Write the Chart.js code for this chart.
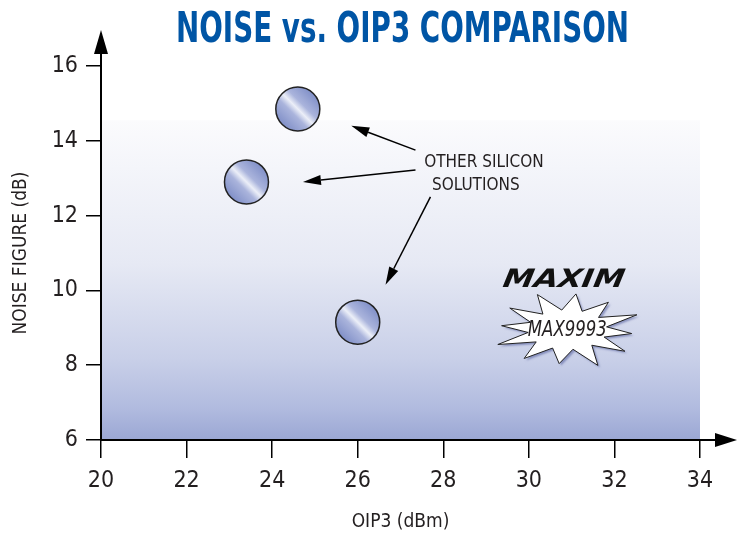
<!DOCTYPE html>
<html>
<head>
<meta charset="utf-8">
<script src="https://cdn.jsdelivr.net/npm/chart.js@4.4.0/dist/chart.umd.min.js"></script>
<style>
  html, body { margin: 0; padding: 0; background: #fff; }
  #wrap { width: 737px; height: 533px; }
</style>
</head>
<body>
<div id="wrap"><canvas id="grafico"></canvas></div>
<script>
// Datos
const oip3 = [24.6, 23.4, 26.0];
const noiseFigure = [14.85, 12.9, 9.15];
const xTicks = [20, 22, 24, 26, 28, 30, 32, 34];
const yTicks = [6, 8, 10, 12, 14, 16];

// Flechas de la anotación (desde el texto hasta cerca del punto), en unidades de datos
const arrowFromX = [27.35, 27.35, 27.7];
const arrowFromY = [13.75, 13.22, 12.5];
const arrowToX = [25.85, 24.72, 26.65];
const arrowToY = [14.4, 12.9, 10.15];

const FONT = '"Liberation Sans Narrow", "DejaVu Sans Condensed", "Roboto", sans-serif';
const TITULO = 'NOISE vs. OIP3 COMPARISON';

const puntos = oip3.map((x, i) => ({ x: x, y: noiseFigure[i] }));

// Relleno tipo esfera para cada círculo
function rellenoCirculo(c) {
  const chart = c.chart;
  if (c.type !== 'data' || !chart.chartArea) return '#8e9bd0';
  const px = chart.scales.x.getPixelForValue(c.raw.x);
  const py = chart.scales.y.getPixelForValue(c.raw.y);
  const r = 22;
  const g = chart.ctx.createLinearGradient(px - r * 0.7, py + r * 0.7, px + r * 0.7, py - r * 0.7);
  g.addColorStop(0, '#8190c8');
  g.addColorStop(0.35, '#aab4dc');
  g.addColorStop(0.5, '#eceff8');
  g.addColorStop(0.65, '#aab4dc');
  g.addColorStop(1, '#8190c8');
  return g;
}

function flecha(ctx, x1, y1, x2, y2, largo, ancho) {
  const ang = Math.atan2(y2 - y1, x2 - x1);
  const bx = x2 - Math.cos(ang) * largo;
  const by = y2 - Math.sin(ang) * largo;
  ctx.beginPath();
  ctx.moveTo(x1, y1);
  ctx.lineTo(bx, by);
  ctx.stroke();
  ctx.beginPath();
  ctx.moveTo(x2, y2);
  ctx.lineTo(bx + Math.sin(ang) * ancho / 2, by - Math.cos(ang) * ancho / 2);
  ctx.lineTo(bx - Math.sin(ang) * ancho / 2, by + Math.cos(ang) * ancho / 2);
  ctx.closePath();
  ctx.fill();
}

const fondoPlugin = {
  id: 'fondo',
  beforeDraw(chart) {
    const { ctx, chartArea: a, scales } = chart;
    const top = scales.y.getPixelForValue(14.55);
    const g = ctx.createLinearGradient(0, top, 0, a.bottom);
    g.addColorStop(0, '#fbfbfd');
    g.addColorStop(0.45, '#e6e9f4');
    g.addColorStop(0.75, '#c8cfe8');
    g.addColorStop(0.9, '#b1bbdf');
    g.addColorStop(1, '#9ba7d4');
    ctx.save();
    ctx.fillStyle = g;
    ctx.fillRect(a.left, top, a.right - a.left, a.bottom - top);

    // título condensado, centrado sobre el área del gráfico
    ctx.font = 'bold 42px ' + FONT;
    ctx.fillStyle = '#0055a5';
    ctx.textBaseline = 'alphabetic';
    ctx.textAlign = 'left';
    const w = ctx.measureText(TITULO).width;
    const ancho = 453;
    ctx.translate((a.left + a.right) / 2 - ancho / 2 + 2, 42);
    ctx.scale(ancho / w, 1);
    ctx.fillText(TITULO, 0, 0);
    ctx.restore();
  }
};

const anotaciones = {
  id: 'anotaciones',
  afterDraw(chart) {
    const { ctx, chartArea: a, scales } = chart;
    const sx = scales.x, sy = scales.y;
    ctx.save();
    ctx.strokeStyle = '#000';
    ctx.fillStyle = '#000';

    // flechas de los ejes
    ctx.lineWidth = 2;
    flecha(ctx, a.left, a.top, a.left, 30, 24, 14);
    flecha(ctx, a.right, a.bottom, 737, a.bottom, 22, 14);

    // flechas hacia las otras soluciones
    ctx.lineWidth = 1.5;
    for (let i = 0; i < arrowFromX.length; i++) {
      flecha(ctx,
        sx.getPixelForValue(arrowFromX[i]), sy.getPixelForValue(arrowFromY[i]),
        sx.getPixelForValue(arrowToX[i]), sy.getPixelForValue(arrowToY[i]), 18, 10);
    }

    ctx.font = '17px ' + FONT;
    ctx.fillStyle = '#231f20';
    ctx.textAlign = 'center';
    ctx.textBaseline = 'middle';
    ctx.fillText('OTHER SILICON', sx.getPixelForValue(28.95), sy.getPixelForValue(13.43));
    ctx.fillText('SOLUTIONS', sx.getPixelForValue(28.76), sy.getPixelForValue(12.79));

    // logo MAXIM
    const lx = sx.getPixelForValue(30.8), ly = sy.getPixelForValue(10.27);
    ctx.save();
    ctx.translate(lx, ly);
    ctx.transform(1.35, 0, -0.45, 1.1, 0, 0);
    ctx.font = '900 23px "DejaVu Sans"';
    ctx.fillStyle = '#111';
    ctx.fillText('MAXIM', 0, 0);
    ctx.restore();

    // estrella MAX9993
    const cx = sx.getPixelForValue(30.9), cy = sy.getPixelForValue(8.95);
    const largos = [1, 0.95, 1.05, 0.9, 1, 1.08, 0.95, 1, 1.05, 0.92, 1.0, 1.06];
    const puntas = largos.length;
    ctx.save();
    ctx.beginPath();
    for (let k = 0; k < puntas * 2; k++) {
      const ang = -Math.PI / 2 + 0.12 + k * Math.PI / puntas;
      const ext = k % 2 === 0 ? largos[k / 2] : 0.55;
      const px = cx + Math.cos(ang) * 72 * ext;
      const py = cy + Math.sin(ang) * 36 * ext;
      if (k === 0) ctx.moveTo(px, py); else ctx.lineTo(px, py);
    }
    ctx.closePath();
    ctx.shadowColor = 'rgba(90,100,160,0.6)';
    ctx.shadowOffsetX = 2;
    ctx.shadowOffsetY = 2;
    ctx.shadowBlur = 2;
    ctx.fillStyle = '#fff';
    ctx.fill();
    ctx.shadowColor = 'transparent';
    ctx.lineWidth = 1;
    ctx.strokeStyle = '#222';
    ctx.stroke();
    ctx.restore();
    ctx.fillStyle = '#231f20';
    ctx.font = 'italic 20px ' + FONT;
    ctx.save();
    ctx.translate(cx, cy + 1);
    ctx.scale(0.92, 1.05);
    ctx.fillText('MAX9993', 0, 0);
    ctx.restore();
    ctx.restore();
  }
};

new Chart(document.getElementById('grafico'), {
  type: 'scatter',
  data: {
    datasets: [{
      data: puntos,
      pointRadius: 22,
      pointHoverRadius: 22,
      pointBorderWidth: 1.5,
      borderColor: '#222',
      backgroundColor: rellenoCirculo
    }]
  },
  options: {
    responsive: true,
    maintainAspectRatio: false,
    animation: false,
    events: [],
    layout: { padding: { top: 66, right: 37, bottom: 0, left: 0 } },
    plugins: {
      legend: { display: false },
      tooltip: { enabled: false },
      title: { display: false }
    },
    scales: {
      x: {
        type: 'linear',
        min: 20,
        max: 34,
        afterBuildTicks: s => { s.ticks = xTicks.map(v => ({ value: v })); },
        afterFit: s => { s.height = 93; },
        grid: { drawOnChartArea: false, drawTicks: true, tickLength: 18, color: '#000', lineWidth: 1.5 },
        border: { color: '#000', width: 2 },
        ticks: { color: '#231f20', padding: 9, font: { family: FONT, size: 23 } },
        title: {
          display: true,
          text: 'OIP3 (dBm)',
          color: '#231f20',
          font: { family: FONT, size: 19 },
          padding: { top: 1, bottom: 0 }
        }
      },
      y: {
        type: 'linear',
        min: 6,
        max: 16,
        afterBuildTicks: s => { s.ticks = yTicks.map(v => ({ value: v })); },
        afterFit: s => { s.width = 101; },
        grid: { drawOnChartArea: false, drawTicks: true, tickLength: 15, color: '#000', lineWidth: 1.5 },
        border: { color: '#000', width: 2 },
        ticks: { color: '#231f20', padding: 8, font: { family: FONT, size: 23 } },
        title: {
          display: true,
          text: 'NOISE FIGURE (dB)',
          color: '#231f20',
          font: { family: FONT, size: 19 },
          padding: { top: 10, bottom: 0 }
        }
      }
    }
  },
  plugins: [fondoPlugin, anotaciones]
});
</script>
</body>
</html>
